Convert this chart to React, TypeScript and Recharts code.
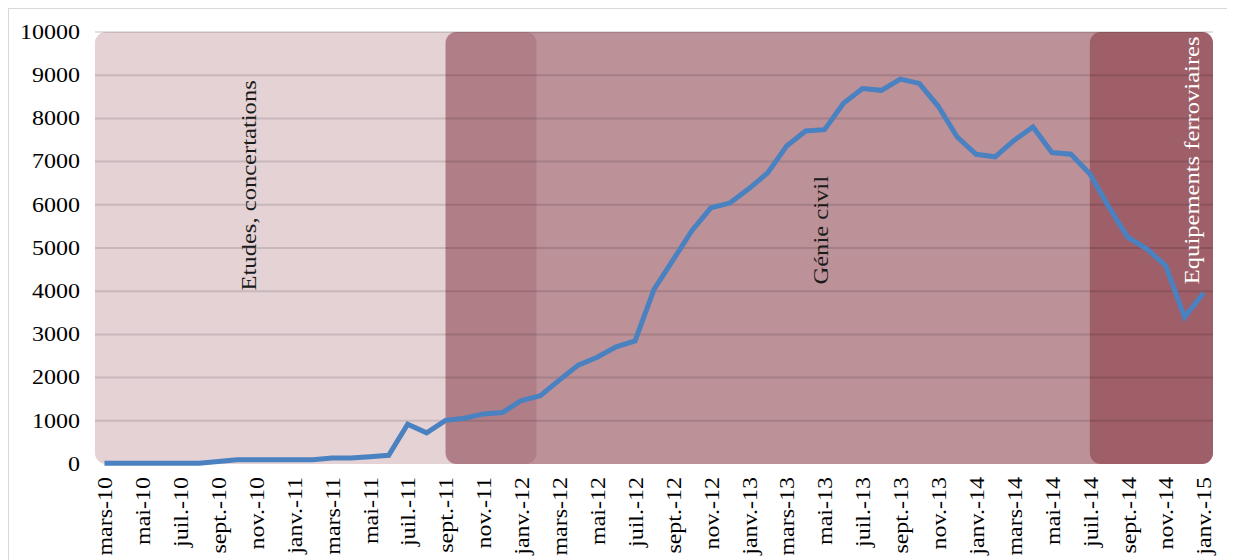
import React from "react";
import {
  LineChart,
  Line,
  XAxis,
  YAxis,
  ReferenceArea,
  ReferenceLine,
  ReferenceDot,
} from "recharts";

// Month categories (mars-10 .. janv.-15)
const months: string[] = [
  "mars-10", "avr.-10", "mai-10", "juin-10", "juil.-10", "août-10", "sept.-10", "oct.-10", "nov.-10", "déc.-10",
  "janv.-11", "févr.-11", "mars-11", "avr.-11", "mai-11", "juin-11", "juil.-11", "août-11", "sept.-11", "oct.-11", "nov.-11", "déc.-11",
  "janv.-12", "févr.-12", "mars-12", "avr.-12", "mai-12", "juin-12", "juil.-12", "août-12", "sept.-12", "oct.-12", "nov.-12", "déc.-12",
  "janv.-13", "févr.-13", "mars-13", "avr.-13", "mai-13", "juin-13", "juil.-13", "août-13", "sept.-13", "oct.-13", "nov.-13", "déc.-13",
  "janv.-14", "févr.-14", "mars-14", "avr.-14", "mai-14", "juin-14", "juil.-14", "août-14", "sept.-14", "oct.-14", "nov.-14", "déc.-14",
  "janv.-15",
];

// Series values (one per month)
const values: number[] = [
  20, 20, 20, 20, 20, 20, 60, 100, 100, 100,
  100, 100, 140, 140, 170, 200, 920, 720, 1010, 1060, 1160, 1190,
  1470, 1580, 1940, 2290, 2470, 2710, 2850, 4040, 4720, 5400, 5930, 6040,
  6370, 6740, 7360, 7710, 7740, 8350, 8690, 8650, 8910, 8810, 8280, 7570,
  7170, 7110, 7490, 7800, 7210, 7170, 6720, 5950, 5250, 4980, 4590, 3400,
  3960,
];

// Y axis ticks
const yTicks: number[] = [0, 1000, 2000, 3000, 4000, 5000, 6000, 7000, 8000, 9000, 10000];

// Labelled months (every second month)
const labelIdx: number[] = months.map((_, i) => i).filter((i) => i % 2 === 0);
const markIdx: number[] = labelIdx.map((i) => i - 0.5);

// Project phases (in month indices)
const phaseNames: string[] = ["Etudes, concertations", "Génie civil", "Equipements ferroviaires"];
const phaseStart: number[] = [-0.5, 18, 52];
const phaseEnd: number[] = [22.8, 58.5, 58.5];
const phaseOpacity: number[] = [0.23, 0.57, 0.6];
const phaseLabelX: number[] = [7.65, 37.8, 57.4];
const phaseLabelY: number[] = [6450, 5410, 7030];
const phaseLabelColor: string[] = ["#1a1a1a", "#1a1a1a", "#ffffff"];

const data = months.map((m, i) => ({ i, month: m, v: values[i] }));

const FONT = '"Liberation Serif", "Times New Roman", serif';
const PHASE_COLOR = "rgb(138,62,74)";
const STRETCH = 1.2;

const RoundedRect = (opacity: number) => (props: any) => {
  const { x, y, width, height } = props;
  return (
    <rect
      x={x}
      y={y}
      width={width}
      height={height}
      rx={11}
      ry={11}
      fill={PHASE_COLOR}
      fillOpacity={opacity}
      stroke="none"
    />
  );
};

const makeLabel = (text: string, color: string) => (props: any) => {
  const vb = props.viewBox || {};
  const cx = vb.x + (vb.width || 0) / 2;
  const cy = vb.y + (vb.height || 0) / 2;
  return (
    <g transform={`translate(${cx}, ${cy}) rotate(-90) scale(${STRETCH}, 1)`}>
      <text
        x={0}
        y={0}
        textAnchor="middle"
        dominantBaseline="central"
        fontFamily={FONT}
        fontSize={20.5}
        fill={color}
      >
        {text}
      </text>
    </g>
  );
};

const XTick = (props: any) => {
  const { x, y, payload } = props;
  const label = months[payload.value] ?? "";
  return (
    <g transform={`translate(${x}, ${y}) rotate(-90) scale(${STRETCH}, 1)`}>
      <text
        x={0}
        y={0}
        dy={1}
        textAnchor="end"
        dominantBaseline="central"
        fontFamily={FONT}
        fontSize={20}
        fill="#000"
      >
        {label}
      </text>
    </g>
  );
};

const YTick = (props: any) => {
  const { x, y, payload } = props;
  return (
    <g transform={`translate(${x}, ${y}) scale(${STRETCH}, 1)`}>
      <text
        x={0}
        y={0}
        textAnchor="end"
        dominantBaseline="central"
        fontFamily={FONT}
        fontSize={20}
        fill="#000"
      >
        {payload.value}
      </text>
    </g>
  );
};

export default function App() {
  return (
    <div
      style={{
        width: 1223,
        height: 560,
        border: "1px solid #d9d9d9",
        background: "#fff",
        overflow: "hidden",
      }}
    >
      <LineChart
        width={1223}
        height={551}
        data={data}
        margin={{ top: 23, right: 19, left: 0, bottom: 0 }}
      >
        <XAxis
          xAxisId="marks"
          dataKey="i"
          type="number"
          domain={[-0.5, 58.5]}
          ticks={markIdx}
          interval={0}
          height={0}
          tick={false}
          tickSize={6}
          tickLine={{ stroke: "#d9d9d9", strokeWidth: 1.5 }}
          axisLine={{ stroke: "#d9d9d9", strokeWidth: 2 }}
        />
        <XAxis
          xAxisId="main"
          dataKey="i"
          type="number"
          domain={[-0.5, 58.5]}
          ticks={labelIdx}
          interval={0}
          height={96}
          tick={<XTick />}
          tickLine={false}
          axisLine={false}
          tickSize={6}
          tickMargin={7}
        />
        <YAxis
          type="number"
          domain={[0, 10000]}
          ticks={yTicks}
          interval={0}
          width={86}
          axisLine={false}
          tickLine={false}
          tickMargin={9}
          tick={<YTick />}
        />
        {phaseNames.map((name, k) => (
          <ReferenceArea
            key={name}
            xAxisId="main"
            x1={phaseStart[k]}
            x2={phaseEnd[k]}
            y1={0}
            y2={10000}
            ifOverflow="extendDomain"
            shape={RoundedRect(phaseOpacity[k])}
          />
        ))}
        {yTicks.slice(1).map((t) => (
          <ReferenceLine
            key={t}
            xAxisId="main"
            y={t}
            stroke="#000"
            strokeOpacity={0.12}
            strokeWidth={2}
          />
        ))}
        <Line
          xAxisId="main"
          type="linear"
          dataKey="v"
          stroke="#4a81c0"
          strokeWidth={5}
          dot={false}
          activeDot={false}
          isAnimationActive={false}
          strokeLinejoin="miter"
        />
        {phaseNames.map((name, k) => (
          <ReferenceDot
            key={"lbl" + name}
            xAxisId="main"
            x={phaseLabelX[k]}
            y={phaseLabelY[k]}
            r={0}
            fill="none"
            stroke="none"
            label={{ content: makeLabel(name, phaseLabelColor[k]) }}
          />
        ))}
      </LineChart>
    </div>
  );
}
